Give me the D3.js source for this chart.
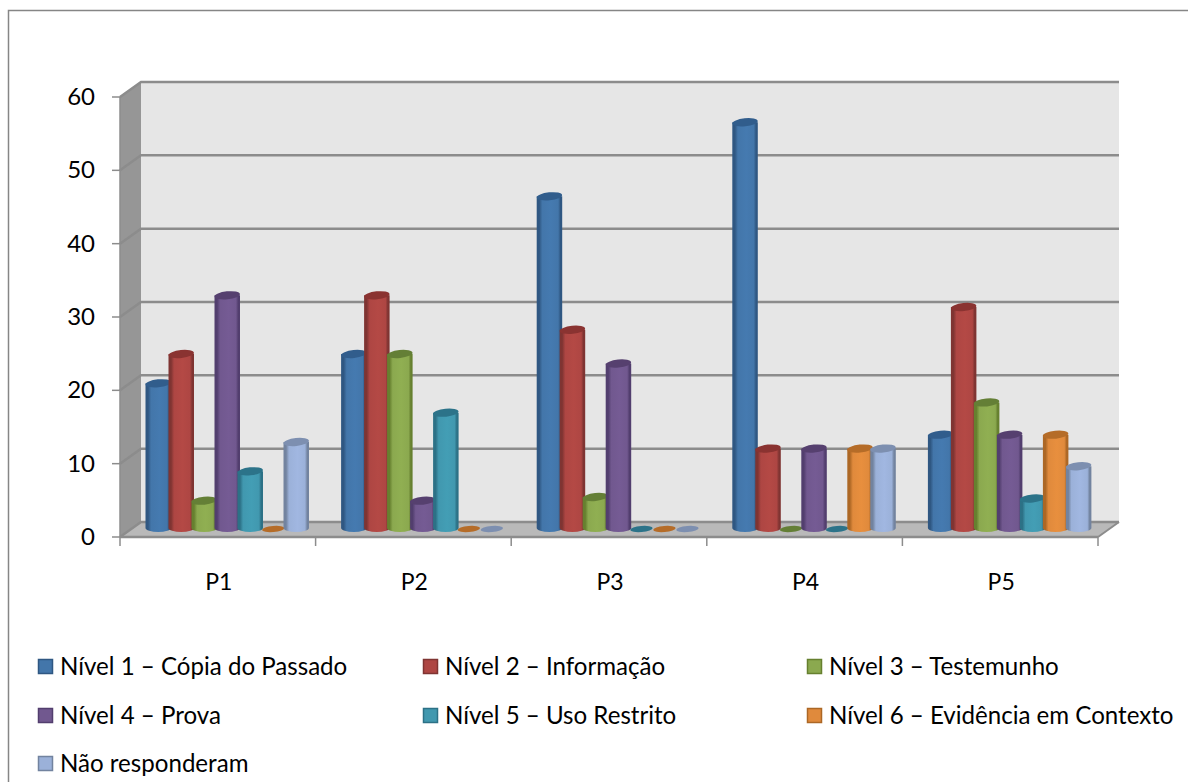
<!DOCTYPE html>
<html>
<head>
<meta charset="utf-8">
<script src="https://cdn.jsdelivr.net/npm/d3@7/dist/d3.min.js"></script>
<style>
html,body{margin:0;padding:0;background:#fff}
svg{display:block}
text{font-family:Lato,"Open Sans",sans-serif;fill:#000}
</style>
</head>
<body>
<script>
const categories = ["P1","P2","P3","P4","P5"];
const seriesNames = ["Nível 1 – Cópia do Passado","Nível 2 – Informação","Nível 3 – Testemunho","Nível 4 – Prova","Nível 5 – Uso Restrito","Nível 6 – Evidência em Contexto","Não responderam"];
const nivel1 = [20,24,45.5,55.6,13];
const nivel2 = [24,32,27.3,11.1,30.4];
const nivel3 = [4,24,4.5,0,17.4];
const nivel4 = [32,4,22.7,11.1,13];
const nivel5 = [8,16,0,0,4.3];
const nivel6 = [0,0,0,11.1,13];
const naoResponderam = [12,0,0,11.1,8.7];
const seriesValues = [nivel1,nivel2,nivel3,nivel4,nivel5,nivel6,naoResponderam];
const yTicks = [0,10,20,30,40,50,60];
const mainColors = ["#4376aa","#ae4643","#8ba94f","#71588f","#4198af","#e08a3c","#9bb1d9"];
const edgeColors = ["#2f5782","#7f3432","#66802f","#523e6e","#2c7186","#ac6725","#72839f"];
const capColors = ["#315d8c","#8a3331","#647f36","#56406f","#2c7389","#b56c28","#7d8fb0"];

const W = 1188, H = 782;
const svg = d3.select("body").append("svg").attr("width",W).attr("height",H);
const defs = svg.append("defs");

// Wall and floor geometry of the 3D plot box
const left = 120, right = 1098, bottom = 537, depthX = 21, depthY = 15;
const x = d3.scaleBand().domain(categories).range([left,right]);
const y = d3.scaleLinear().domain([0,60]).range([bottom,97]);

// Chart frame
svg.append("path").attr("d",`M8.5,${H}V10.5H${W}`).attr("fill","none").attr("stroke","#868686").attr("stroke-width",1.5);

// Back wall, side wall, floor
const gridColor = "#8c8c8c";
svg.append("rect").attr("x",left+depthX).attr("y",y(60)-depthY).attr("width",right-left).attr("height",bottom-y(60)).attr("fill","#e6e6e6");
svg.append("path").attr("d",`M${left},${y(60)}L${left+depthX},${y(60)-depthY}V${bottom-depthY}L${left},${bottom}Z`).attr("fill","#969696");
svg.append("path").attr("d",`M${left},${bottom}L${left+depthX},${bottom-depthY}H${right+depthX}L${right},${bottom}Z`).attr("fill","#b9b9b9");

// Gridlines running along the side wall and back wall
yTicks.forEach(t => {
  svg.append("path").attr("d",`M${left},${y(t)}L${left+depthX},${y(t)-depthY}H${right+depthX}`)
    .attr("fill","none").attr("stroke",gridColor).attr("stroke-width",2.5);
});
svg.append("path").attr("d",`M${right},${bottom}L${right+depthX},${bottom-depthY}`).attr("fill","none").attr("stroke",gridColor).attr("stroke-width",2);

// Value axis
svg.append("line").attr("x1",left).attr("x2",left).attr("y1",y(60)).attr("y2",bottom).attr("stroke",gridColor).attr("stroke-width",1.5);
yTicks.forEach(t => {
  svg.append("line").attr("x1",left-8).attr("x2",left).attr("y1",y(t)).attr("y2",y(t)).attr("stroke",gridColor).attr("stroke-width",1.5);
  svg.append("text").attr("x",95).attr("y",y(t)+8).attr("text-anchor","end").attr("font-size",24).text(t);
});

// Category axis
svg.append("line").attr("x1",left).attr("x2",right).attr("y1",bottom).attr("y2",bottom).attr("stroke",gridColor).attr("stroke-width",2.5);
d3.range(categories.length+1).forEach(i => {
  const tx = left + i*x.step();
  svg.append("line").attr("x1",tx).attr("x2",tx).attr("y1",bottom).attr("y2",bottom+9).attr("stroke",gridColor).attr("stroke-width",1.5);
});
categories.forEach(c => {
  svg.append("text").attr("x",x(c)+x.bandwidth()/2+1).attr("y",590).attr("text-anchor","middle").attr("font-size",23).text(c);
});

// Cylinder shading for each series
mainColors.forEach((c,i) => {
  const g = defs.append("linearGradient").attr("id",`cyl${i}`).attr("x1",0).attr("x2",1).attr("y1",0).attr("y2",0);
  [[0,edgeColors[i]],[0.1,edgeColors[i]],[0.22,c],[0.55,d3.color(c).brighter(0.1)],[0.84,c],[0.93,edgeColors[i]],[1,edgeColors[i]]]
    .forEach(([o,col]) => g.append("stop").attr("offset",o).attr("stop-color",col));
});

// Cylinders: later series sit in front of earlier ones
const barStep = 23, barW = 25.5, firstBarOffset = 25.5, barBaseLift = 7, capRy = 4;
const unit = y(0) - y(1);
categories.forEach((c,ci) => {
  seriesValues.forEach((vals,si) => {
    const v = vals[ci];
    const x0 = x(c) + firstBarOffset + si*barStep;
    const cx = x0 + barW/2;
    const base = bottom - barBaseLift;
    const top = base - v*unit;
    if (v === 0) {
      svg.append("ellipse").attr("cx",cx).attr("cy",base-1).attr("rx",barW/2-1.5).attr("ry",3)
        .attr("transform",`rotate(-5 ${cx} ${base-1})`).attr("fill",capColors[si]);
      return;
    }
    svg.append("path")
      .attr("d",`M${x0},${top}V${base-2}A${barW/2},${capRy} 0 0 0 ${x0+barW},${base-2}V${top}Z`)
      .attr("fill",`url(#cyl${si})`);
    svg.append("ellipse").attr("cx",cx).attr("cy",top).attr("rx",barW/2).attr("ry",capRy)
      .attr("transform",`rotate(-6 ${cx} ${top})`).attr("fill",capColors[si]);
  });
});

// Legend
const legendCols = [38,423,807];
const legendRows = [667,716,764];
seriesNames.forEach((name,i) => {
  const lx = legendCols[i%3], ly = legendRows[Math.floor(i/3)];
  svg.append("rect").attr("x",lx+0.5).attr("y",ly-7.5).attr("width",14).attr("height",14)
    .attr("fill",mainColors[i]).attr("stroke",edgeColors[i]).attr("stroke-width",1.5);
  svg.append("text").attr("x",lx+22).attr("y",ly+8).attr("font-size",24.1).text(name);
});
</script>
</body>
</html>
